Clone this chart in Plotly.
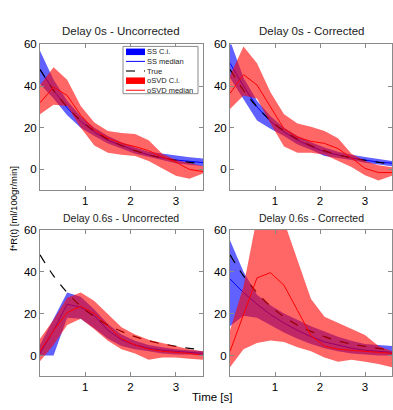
import plotly.graph_objects as go

t = [0.0, 0.3, 0.6, 0.9, 1.2, 1.5, 1.8, 2.1, 2.4, 2.7, 3.0, 3.3, 3.6]
true_r = [48, 38, 30, 23.5, 18.5, 14.5, 11.5, 9, 7, 5.5, 4.4, 3.4, 2.7]

# Panel 1: Delay 0s - Uncorrected
p1_ss_med = [48, 38, 29.5, 23, 18, 14, 11.5, 9, 7, 5.5, 4.5, 3.8, 3.3]
p1_ss_up = [57, 43, 33, 25.5, 20, 16, 13, 10.5, 8.5, 7.5, 6.5, 5.8, 5.2]
p1_ss_lo = [41, 34, 26, 20, 16, 12.5, 10, 7.5, 6, 4.5, 3, 2.2, 1.5]
p1_sv_med = [32, 39.5, 35.5, 26, 19, 15, 12.5, 11, 9, 6, 3.5, 0, -1]
p1_sv_up = [40.5, 49, 43, 30.5, 22.5, 18.5, 17.5, 17, 14, 7.5, 4.5, 3, 1.5]
p1_sv_lo = [26.5, 31, 30.5, 20, 11.5, 8, 7, 6.5, 4, 0.5, -3, -4.5, -2]

# Panel 2: Delay 0s - Corrected
p2_ss_med = [51, 40, 30, 23, 18, 14, 11, 8.5, 7, 5.5, 4.5, 3.5, 3]
p2_ss_up = [62, 44, 33, 25.5, 20, 16, 13, 10.5, 8.5, 7, 6, 5, 4]
p2_ss_lo = [44, 34, 23.5, 19.5, 16, 12, 9.5, 6.5, 5.5, 4.5, 3.2, 2.2, 1.5]
p2_sv_med = [36.5, 45.5, 40.5, 30, 19.5, 15.5, 13.5, 12.5, 10, 5.5, 0.5, -1.5, -1.5]
p2_sv_up = [45, 59, 51, 37, 26.5, 22, 20.5, 18.5, 15, 7.5, 4, 2, 1]
p2_sv_lo = [29, 35.5, 34, 22, 11, 8, 8, 7, 4, 1.2, -2.8, -5.3, -3]

# Panel 3: Delay 0.6s - Uncorrected
p3_ss_med = [1, 12, 24.5, 23, 19, 12, 7.5, 5, 3.5, 2.5, 2, 1.5, 1]
p3_ss_up = [5, 17.5, 30, 28, 22, 15, 10, 7, 5, 4, 3, 2.5, 2]
p3_ss_lo = [0, 0, 18, 17.5, 13, 8, 4.5, 3, 2, 1, 0.5, 0.5, 0]
p3_sv_med = [2, 12, 20.5, 23.5, 20, 14, 8, 5, 3, 2, 1.5, 1, 0]
p3_sv_up = [8, 17, 27.5, 30, 26, 19.5, 13.5, 10, 7.5, 6, 4.5, 3, 2]
p3_sv_lo = [-2.7, 5, 14.5, 17.5, 12.5, 7, 3, 1, -2, -1, -1, -1.5, -2]

# Panel 4: Delay 0.6s - Corrected
p4_ss_med = [36.5, 30, 24.5, 19.5, 15.5, 12, 9, 6.5, 5, 3.5, 2.5, 2, 1.5]
p4_ss_up = [55, 40, 29, 24, 20, 17, 14, 11.5, 9, 7, 5.5, 5, 4.5]
p4_ss_lo = [14, 19, 18, 14.5, 11, 8, 5.5, 3.5, 2, 1, 0.5, 0, 0]
p4_sv_med = [2, 20, 37, 39.5, 33.5, 21.5, 9.5, 4.5, 3, 2.5, 2, 1.5, 1]
p4_sv_up = [12, 33, 66, 72, 64, 46, 27, 18.5, 15.5, 12.5, 9.8, 4.5, 2]
p4_sv_lo = [-5.6, 3, 6, 7.2, 6.5, 4, 2, -1, -3, -2, -3, -4, -5.6]

titles = ["Delay 0s - Uncorrected", "Delay 0s - Corrected",
          "Delay 0.6s - Uncorrected", "Delay 0.6s - Corrected"]
legend_names = ["SS C.i.", "SS median", "True", "oSVD C.i.", "oSVD median"]
panels = [
    (p1_ss_med, p1_ss_up, p1_ss_lo, p1_sv_med, p1_sv_up, p1_sv_lo),
    (p2_ss_med, p2_ss_up, p2_ss_lo, p2_sv_med, p2_sv_up, p2_sv_lo),
    (p3_ss_med, p3_ss_up, p3_ss_lo, p3_sv_med, p3_sv_up, p3_sv_lo),
    (p4_ss_med, p4_ss_up, p4_ss_lo, p4_sv_med, p4_sv_up, p4_sv_lo),
]

W, H = 393, 410
def px(x):
    return x / W
def py(y):
    return 1 - y / H

xdoms = [(px(40), px(203)), (px(230), px(392)), (px(40), px(203)), (px(230), px(392))]
ydoms = [(py(187), py(39)), (py(187), py(39)), (py(376), py(227)), (py(376), py(227))]
title_pos = [(121, 25, 11.5), (311, 25, 11.5), (121, 215, 10.5), (311, 215, 10.5)]

BLUE_F = "rgba(0,0,255,0.62)"
RED_F = "rgba(255,0,0,0.6)"
AX = "#8a8a8a"
FONT = "Liberation Sans, Arial, sans-serif"

fig = go.Figure()

for i, (ssm, ssu, ssl, svm, svu, svl) in enumerate(panels):
    k = "" if i == 0 else str(i + 1)
    xa, ya = "x" + k, "y" + k
    band_x = t + t[::-1]
    fig.add_trace(go.Scatter(x=band_x, y=ssu + ssl[::-1], fill="toself", fillcolor=BLUE_F,
                             line=dict(width=0, color="rgba(0,0,255,0)"), mode="lines",
                             name=legend_names[0], xaxis=xa, yaxis=ya, hoverinfo="skip"))
    fig.add_trace(go.Scatter(x=t, y=ssm, mode="lines", line=dict(color="#0000ff", width=1),
                             name=legend_names[1], xaxis=xa, yaxis=ya))
    fig.add_trace(go.Scatter(x=t, y=true_r, mode="lines",
                             line=dict(color="black", width=1.2, dash="dash", shape="spline"),
                             name=legend_names[2], xaxis=xa, yaxis=ya))
    fig.add_trace(go.Scatter(x=band_x, y=svu + svl[::-1], fill="toself", fillcolor=RED_F,
                             line=dict(width=0, color="rgba(255,0,0,0)"), mode="lines",
                             name=legend_names[3], xaxis=xa, yaxis=ya, hoverinfo="skip"))
    fig.add_trace(go.Scatter(x=t, y=svm, mode="lines", line=dict(color="#ff0000", width=1),
                             name=legend_names[4], xaxis=xa, yaxis=ya))

    axstyle = dict(showline=True, linecolor=AX, linewidth=1, mirror="ticks",
                   ticks="inside", ticklen=4, tickcolor=AX, showgrid=False, zeroline=False,
                   tickfont=dict(size=11.5, color="black", family=FONT))
    fig.layout["xaxis" + k] = dict(domain=xdoms[i], range=[0, 3.6], tickvals=[1, 2, 3],
                                   anchor=ya, **axstyle)
    fig.layout["yaxis" + k] = dict(domain=ydoms[i], range=[-10, 60], tickvals=[0, 20, 40, 60],
                                   anchor=xa, **axstyle)
    tx, ty, fs = title_pos[i]
    fig.add_annotation(x=px(tx), y=py(ty), xref="paper", yref="paper", text=titles[i],
                       showarrow=False, font=dict(size=fs, color="#222", family=FONT),
                       xanchor="center", yanchor="middle")

fig.add_annotation(x=px(14), y=py(206), xref="paper", yref="paper", text="f*R(t) [ml/100gr/min]",
                   textangle=-90, showarrow=False, font=dict(size=9.5, color="black", family=FONT),
                   xanchor="center", yanchor="middle")
fig.add_annotation(x=px(212), y=py(397), xref="paper", yref="paper", text="Time [s]",
                   showarrow=False, font=dict(size=11.5, color="black", family=FONT),
                   xanchor="center", yanchor="middle")

# manual legend (compact, Matlab-like)
shapes = [dict(type="rect", xref="paper", yref="paper", x0=px(123), x1=px(198),
               y0=py(89), y1=py(41), line=dict(color=AX, width=1), fillcolor="white", layer="above")]
rows = [46.5, 56.2, 66, 75.8, 85.5]
sym_x0, sym_x1 = px(126), px(145)
for j, (name, yc) in enumerate(zip(legend_names, rows)):
    if j in (0, 3):
        shapes.append(dict(type="rect", xref="paper", yref="paper", x0=sym_x0, x1=sym_x1,
                           y0=py(yc + 3.3), y1=py(yc - 3.3), line=dict(width=0),
                           fillcolor="#0000ff" if j == 0 else "#ff0000", layer="above"))
    else:
        col = {1: "#0000ff", 2: "#444444", 4: "#ff0000"}[j]
        dash = "dash" if j == 2 else "solid"
        shapes.append(dict(type="line", xref="paper", yref="paper", x0=sym_x0, x1=sym_x1,
                           y0=py(yc), y1=py(yc),
                           line=dict(color=col, width=1.5 if j == 2 else 1, dash=dash),
                           layer="above"))
    fig.add_annotation(x=px(144.5), y=py(yc), xref="paper", yref="paper", text=name,
                       showarrow=False, font=dict(size=7.5, color="#222", family=FONT),
                       xanchor="left", yanchor="middle")

fig.update_layout(
    width=W, height=H, margin=dict(l=0, r=0, t=0, b=0),
    paper_bgcolor="white", plot_bgcolor="white",
    showlegend=False, shapes=shapes,
)

fig.write_html("out.html", config={"displayModeBar": False},
               post_script="document.body.style.margin='0px';")
